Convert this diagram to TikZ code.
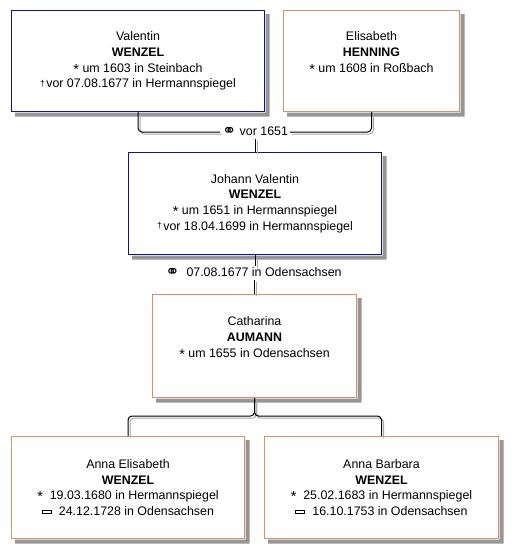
\documentclass[tikz,border=0pt]{standalone}
\usepackage{fontspec}
\setmainfont{Liberation Sans}
\newfontfamily\symfont{DejaVu Sans}
\definecolor{mbord}{RGB}{20,20,130}
\definecolor{fbord}{RGB}{222,142,104}
\definecolor{shad}{RGB}{150,150,150}
\definecolor{lshad}{RGB}{170,170,170}
\newcommand{\marr}{{\symfont\fontsize{17}{17}\selectfont\raisebox{-1pt}{⚭}}}
\newcommand{\dagg}{{\fontsize{8.5}{8.5}\selectfont\raisebox{1.5pt}{†}}\hspace{1.5pt}}
\newcommand{\stern}{{\fontsize{14.5}{14.5}\selectfont\raisebox{-2pt}{*}}}
\newcommand{\bur}{{\setlength\fboxsep{0pt}\setlength\fboxrule{1pt}\raisebox{2.5pt}{\fbox{\rule{8pt}{0pt}\rule{0pt}{2pt}}}}}
\newcommand{\allconn}[1]{%
  \draw[#1] (v.south) |- (lab1.west);
  \draw[#1] (e.south) |- (lab1.east);
  \draw[#1] (lab1.south -| jv.north) -- (jv.north);
  \draw[#1] (jv.south) -- (jv.south |- lab2.north);
  \draw[#1] (cat.north |- lab2.south) -- (cat.north);
  \draw[#1] (cat.south) -- (split) -| (ae.north);
  \draw[#1] (cat.south) -- (split) -| (ab.north);
}
% L-shaped drop shadow outside the box, right and bottom
\newcommand{\boxshadow}[1]{%
  \fill[shad] ([xshift=4pt,yshift=-0.5pt]#1.south west) -- ([xshift=4pt,yshift=-4.5pt]#1.south west)
     -- ([xshift=4.5pt,yshift=-4.5pt]#1.south east) -- ([xshift=4.5pt,yshift=-4pt]#1.north east)
     -- ([xshift=0.5pt,yshift=-4pt]#1.north east) -- ([xshift=0.5pt,yshift=-0.5pt]#1.south east) -- cycle;
}
\tikzset{
  person/.style={draw, line width=1pt, fill=white, rectangle, anchor=north west,
    align=center, inner sep=0pt, font=\fontsize{12.4}{15.7}\selectfont},
  male/.style={person, draw=mbord},
  female/.style={person, draw=fbord},
  conn/.style={line width=1pt, rounded corners=4pt},
  lab/.style={font=\fontsize{12.4}{14}\selectfont, inner xsep=2pt, inner ysep=2pt}
}
\begin{document}
\begin{tikzpicture}[x=1pt,y=-1pt]
\useasboundingbox[fill=white] (0,0) rectangle (518,558);
\node[male, minimum width=253pt, minimum height=101pt] (v) at (11,10)
  {Valentin\\ \textbf{WENZEL}\\ \stern\ um 1603 in Steinbach\\ \dagg vor 07.08.1677 in Hermannspiegel};
\node[female, minimum width=176pt, minimum height=101pt] (e) at (283,10)
  {Elisabeth\\ \textbf{HENNING}\\ \stern\ um 1608 in Roßbach\\ \vphantom{Hg}};
\node[male, minimum width=253pt, minimum height=102pt] (jv) at (128,152)
  {Johann Valentin\\ \textbf{WENZEL}\\ \stern\ um 1651 in Hermannspiegel\\ \dagg vor 18.04.1699 in Hermannspiegel};
\node[female, minimum width=204pt, minimum height=103pt] (cat) at (152,294)
  {Catharina\\ \textbf{AUMANN}\\ \stern\ um 1655 in Odensachsen\\ \vphantom{Hg}};
\node[female, minimum width=233pt, minimum height=102pt] (ae) at (11,436)
  {Anna Elisabeth\\ \textbf{WENZEL}\\ \stern\ \ 19.03.1680 in Hermannspiegel\\ \bur\ \ 24.12.1728 in Odensachsen};
\node[female, minimum width=234pt, minimum height=102pt] (ab) at (264,436)
  {Anna Barbara\\ \textbf{WENZEL}\\ \stern\ \ 25.02.1683 in Hermannspiegel\\ \bur\ \ 16.10.1753 in Odensachsen};
\boxshadow{v}\boxshadow{e}\boxshadow{jv}\boxshadow{cat}\boxshadow{ae}\boxshadow{ab}
\node[lab] (lab1) at (255,132) {\marr{} vor 1651};
\node[lab] (lab2) at (253.5,273) {\marr\ \ 07.08.1677 in Odensachsen};
\coordinate (split) at (254.5,416);
\begin{scope}[transform canvas={xshift=2pt,yshift=-2pt}]
  \allconn{conn, draw=lshad}
\end{scope}
\allconn{conn, draw=black}
\end{tikzpicture}
\end{document}
